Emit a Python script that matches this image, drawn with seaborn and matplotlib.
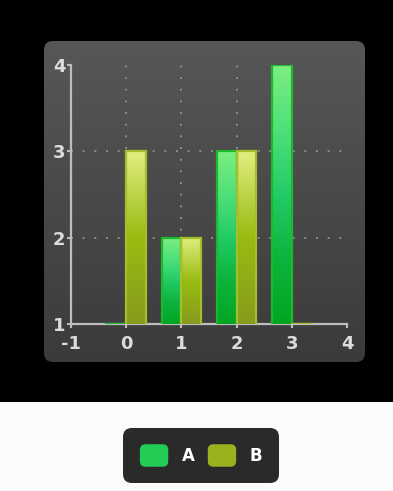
import numpy as np
import pandas as pd
import matplotlib
matplotlib.use("Agg")
import matplotlib.pyplot as plt
import seaborn as sns
from matplotlib.patches import FancyBboxPatch, Rectangle, Patch
from matplotlib.colors import LinearSegmentedColormap
from matplotlib.legend_handler import HandlerPatch

# ---- data ----
categories = [0, 1, 2, 3]
series_names = ["A", "B"]
values_a = [1, 2, 3, 4]
values_b = [3, 2, 3, 1]
x_ticks = [-1, 0, 1, 2, 3, 4]
y_ticks = [1, 2, 3, 4]

W, H = 393, 491
sns.set_theme(style="white")
plt.rcParams['font.family'] = ['DejaVu Sans']

fig = plt.figure(figsize=(W / 100, H / 100), dpi=100, facecolor="#fbfbfb")

# background: black band + rounded gradient panel
bg = fig.add_axes([0, 0, 1, 1], zorder=0)
bg.set_xlim(0, W); bg.set_ylim(H, 0); bg.axis('off')
bg.add_patch(Rectangle((0, 0), W, 402, color='black', lw=0, zorder=1))
panel = FancyBboxPatch((44, 41), 321, 321, boxstyle="round,pad=0,rounding_size=9",
                       fc='none', ec='none', zorder=1)
bg.add_patch(panel)
grad = np.linspace(0, 1, 256).reshape(-1, 1)
cmap_panel = LinearSegmentedColormap.from_list('p', ['#575757', '#3b3b3b'])
im = bg.imshow(grad, extent=[44, 365, 362, 41], cmap=cmap_panel, aspect='auto',
               origin='upper', zorder=2)
im.set_clip_path(panel)
bg.set_xlim(0, W); bg.set_ylim(H, 0)

# main axes
ax = fig.add_axes([71 / W, (H - 324) / H, 276 / W, 259 / H], zorder=1)
ax.set_facecolor('none')

df = pd.DataFrame({
    'x': categories * 2,
    'series': [series_names[0]] * len(values_a) + [series_names[1]] * len(values_b),
    'value': values_a + values_b,
})
palette = {'A': '#22cc55', 'B': '#99bb22'}
sns.barplot(data=df, x='x', y='value', hue='series', native_scale=True, palette=palette,
            width=0.72, saturation=1, legend=False, errorbar=None, ax=ax, zorder=3)

grad_cols = {
    'A': ['#7cee80', '#4fe07a', '#22cc66', '#0cb43c', '#00a622'],
    'B': ['#e2ee80', '#bcd54a', '#99bb11', '#8fac17', '#889a1e'],
}
edge_cols = {'A': '#1fb82a', 'B': '#a6be2c'}

for container, name in zip(ax.containers, series_names):
    cm = LinearSegmentedColormap.from_list(name, grad_cols[name])
    for p in container.patches:
        x0 = p.get_x(); w = p.get_width(); top = p.get_y() + p.get_height()
        if top > y_ticks[0]:
            gi = ax.imshow(grad, extent=[x0, x0 + w, y_ticks[0], top], cmap=cm,
                           aspect='auto', origin='upper', zorder=3, interpolation='bilinear')
            gi.set_clip_path(p)
        p.set_facecolor('none')
        p.set_edgecolor(edge_cols[name])
        p.set_linewidth(1.6)
        p.set_zorder(4)

ax.set_xlim(x_ticks[0], x_ticks[-1])
ax.set_ylim(y_ticks[0], y_ticks[-1])
ax.set_xticks(x_ticks)
ax.set_yticks(y_ticks)
ax.set_xticklabels([str(t) for t in x_ticks], fontweight='bold')
ax.set_yticklabels([str(t) for t in y_ticks], fontweight='bold')
ax.set_xlabel(''); ax.set_ylabel('')
ax.tick_params(axis='both', colors='#bdbdbd', labelcolor='#dcdcdc', labelsize=13,
               length=3, width=1.5, direction='out')
ax.tick_params(axis='x', pad=5, bottom=True)
ax.tick_params(axis='y', pad=1, left=True)

for s in ['top', 'right']:
    ax.spines[s].set_visible(False)
for s in ['left', 'bottom']:
    ax.spines[s].set_color('#bdbdbd')
    ax.spines[s].set_linewidth(1.6)
    ax.spines[s].set_zorder(2.5)

ax.grid(True, color='#8c8c8c', linestyle=(0, (1, 5)), linewidth=1.4)
ax.set_axisbelow(True)
xg = ax.xaxis.get_gridlines(); yg = ax.yaxis.get_gridlines()
xg[0].set_visible(False); xg[-1].set_visible(False)
yg[0].set_visible(False); yg[-1].set_visible(False)


class RoundHandler(HandlerPatch):
    def create_artists(self, legend, orig_handle, xdescent, ydescent, width, height,
                       fontsize, trans):
        p = FancyBboxPatch((-xdescent, -ydescent), width, height,
                           boxstyle='round,pad=0,rounding_size=4',
                           fc=orig_handle.get_facecolor(), ec='none', transform=trans)
        return [p]


handles = [Patch(fc='#22cc55'), Patch(fc='#99b31c')]
leg = fig.legend(handles=handles, labels=series_names, loc='center',
                 bbox_to_anchor=(201 / W, 1 - 455.5 / H), ncol=2, frameon=True,
                 facecolor='#2a2a2a', edgecolor='none', framealpha=1, fancybox=True,
                 labelcolor='white', prop={'weight': 'bold', 'size': 12},
                 handlelength=1.7, handleheight=1.7, handletextpad=0.8,
                 columnspacing=0.8, borderpad=1.0,
                 handler_map={Patch: RoundHandler()})
leg.get_frame().set_boxstyle('round,pad=0,rounding_size=0.55')

fig.savefig('out.png', dpi=100, facecolor=fig.get_facecolor())
